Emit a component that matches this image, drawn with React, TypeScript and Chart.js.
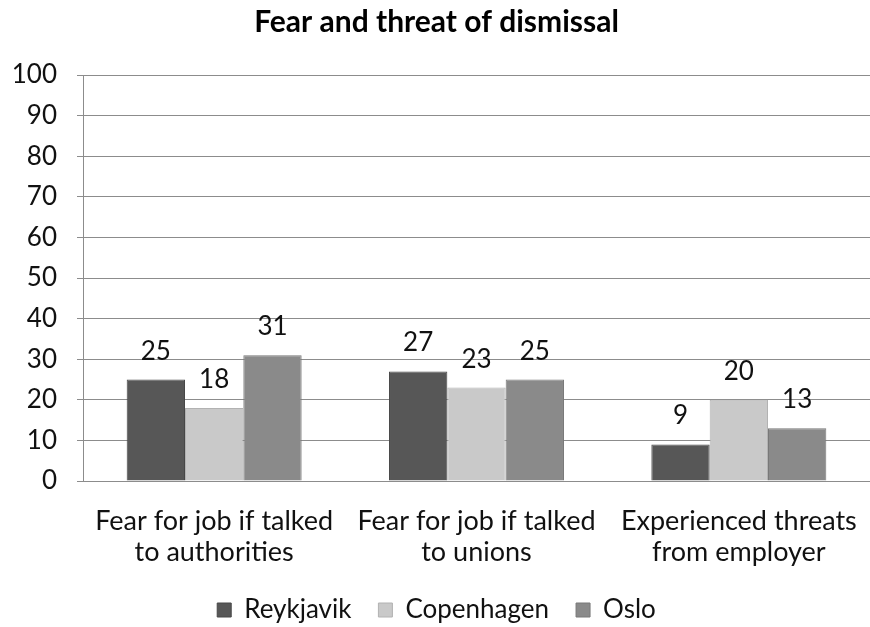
import React, { useEffect, useRef } from "react";
import { Chart, registerables } from "chart.js";

Chart.register(...registerables);

const categories: string[][] = [
  ["Fear for job if talked", "to authorities"],
  ["Fear for job if talked", "to unions"],
  ["Experienced threats", "from employer"],
];
const seriesNames = ["Reykjavik", "Copenhagen", "Oslo"];
const reykjavik = [25, 27, 9];
const copenhagen = [18, 23, 20];
const oslo = [31, 25, 13];
const fills = ["#575757", "#c9c9c9", "#8a8a8a"];
const borders = ["#484848", "#b2b2b2", "#787878"];
const FONT = "Lato, 'Liberation Sans', sans-serif";

const labelPlugin = {
  id: "barLabels",
  afterDatasetsDraw(chart: any) {
    const ctx = chart.ctx;
    ctx.save();
    ctx.fillStyle = "#111";
    ctx.font = `26px ${FONT}`;
    ctx.textAlign = "center";
    ctx.textBaseline = "alphabetic";
    chart.data.datasets.forEach((ds: any, i: number) => {
      const meta = chart.getDatasetMeta(i);
      meta.data.forEach((el: any, j: number) => {
        ctx.fillText(String(ds.data[j]), el.x, el.y - 20);
      });
    });
    ctx.restore();
  },
};

export default function App() {
  const ref = useRef<HTMLCanvasElement>(null);
  useEffect(() => {
    if (!ref.current) return;
    const data = [reykjavik, copenhagen, oslo];
    const chart = new Chart(ref.current, {
      type: "bar",
      data: {
        labels: categories,
        datasets: seriesNames.map((n, i) => ({
          label: n,
          data: data[i],
          backgroundColor: fills[i],
          borderColor: borders[i],
          borderWidth: 1,
          barPercentage: 1.0,
          categoryPercentage: 0.667,
        })),
      },
      options: {
        responsive: false,
        animation: false,
        layout: { padding: { left: 0, right: -3, top: 0, bottom: -6 } },
        plugins: {
          title: {
            display: true,
            text: "Fear and threat of dismissal",
            color: "#000",
            font: { family: FONT, size: 30, weight: "bold", lineHeight: 1.2 },
            padding: { top: 4, bottom: 35 },
          },
          legend: {
            position: "bottom",
            labels: {
              color: "#111",
              font: { family: FONT, size: 26 },
              boxWidth: 14,
              boxHeight: 14,
              padding: 27,
            },
          },
          tooltip: { enabled: false },
        },
        scales: {
          x: {
            grid: { display: false, drawTicks: false },
            border: { display: true, color: "#8c8c8c" },
            ticks: {
              color: "#111",
              font: { family: FONT, size: 27, lineHeight: 1.15 },
              padding: 25,
              maxRotation: 0,
              autoSkip: false,
            },
            afterFit(scale: any) {
              scale.height = 89;
              scale.paddingLeft = 0;
              scale.paddingRight = 0;
            },
          },
          y: {
            min: 0,
            max: 100,
            ticks: {
              stepSize: 10,
              color: "#111",
              font: { family: FONT, size: 26 },
              padding: 20,
            },
            grid: { color: "#8c8c8c", tickLength: 6 },
            border: { display: true, color: "#8c8c8c" },
            afterFit(scale: any) {
              scale.width = 83;
            },
          },
        },
      },
      plugins: [labelPlugin],
    });
    return () => chart.destroy();
  }, []);
  return (
    <div style={{ position: "absolute", left: 0, top: 0, width: 870, height: 627, background: "#fff" }}>
      <canvas ref={ref} width={870} height={627} />
    </div>
  );
}
